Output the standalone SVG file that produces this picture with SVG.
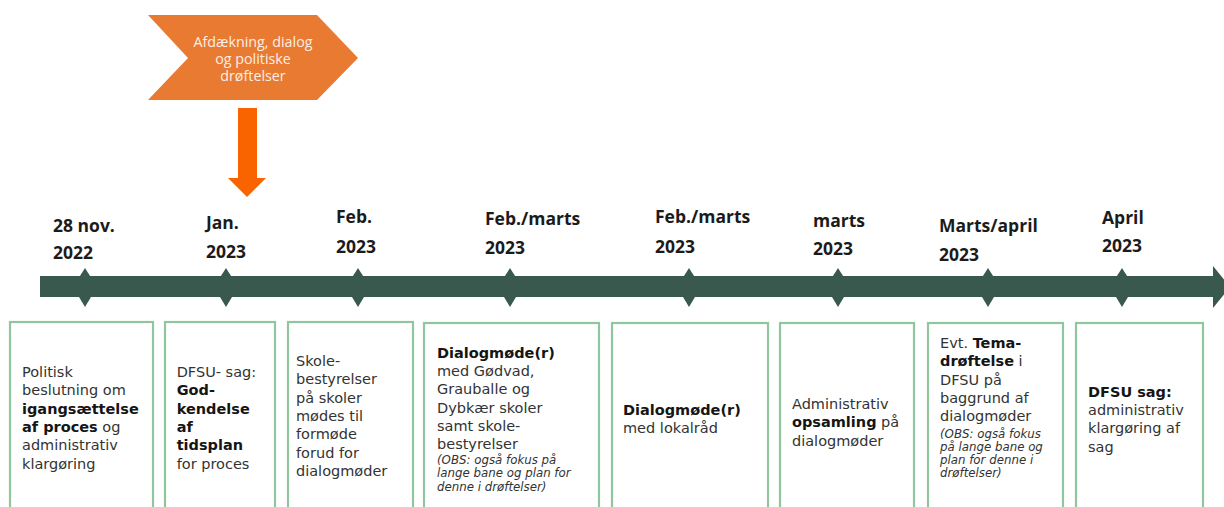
<svg xmlns="http://www.w3.org/2000/svg" width="1224" height="507" viewBox="0 0 1224 507">
<style>
.date{font-family:"Open Sans","Liberation Sans",sans-serif;font-weight:bold;font-size:17.5px;fill:#1b1b1b}
.box{fill:#ffffff;stroke:#8fc6a0;stroke-width:2.2}
.t{font-family:"DejaVu Sans","Verdana",sans-serif;font-size:14.5px;fill:#333333}
.b{font-weight:bold;fill:#151515}
.i{font-style:italic;font-size:11.8px;fill:#333333}
.dia{fill:#3a594e}
.chev{fill:#e87a32}
.ct{font-family:"Open Sans","Liberation Sans",sans-serif;font-size:14.3px;fill:#fdeee4;text-anchor:middle}
</style>
<rect width="1224" height="507" fill="#ffffff"/>

<g id="phase">
<polygon class="chev" points="148,15 317,15 358,58 317,100 148,100 188,58"/>
<text class="ct"><tspan x="253" y="47">Afdækning, dialog</tspan><tspan x="253" y="64">og politiske</tspan><tspan x="253" y="81">drøftelser</tspan></text>
</g>

<g id="connectors">
<polygon fill="#fa6400" points="238,108 257,108 257,178 266,178 247,197 228,178 238,178"/>
<g id="timeline">
<polygon class="dia" points="40,276 1213,276 1213,266 1230,287 1213,308 1213,297 40,297"/>
<g id="ticks">
<polygon class="dia" points="85,268 97,287 85,307 73,287"/>
<polygon class="dia" points="226,268 238,287 226,307 214,287"/>
<polygon class="dia" points="358,268 370,287 358,307 346,287"/>
<polygon class="dia" points="510,268 522,287 510,307 498,287"/>
<polygon class="dia" points="689,268 701,287 689,307 677,287"/>
<polygon class="dia" points="838,268 850,287 838,307 826,287"/>
<polygon class="dia" points="988,268 1000,287 988,307 976,287"/>
<polygon class="dia" points="1122,268 1134,287 1122,307 1110,287"/>
</g>
</g>
</g>

<g id="dates">
<text class="date"><tspan x="53" y="232">28 nov.</tspan><tspan x="53" y="259">2022</tspan></text>
<text class="date"><tspan x="206" y="229">Jan.</tspan><tspan x="206" y="258">2023</tspan></text>
<text class="date"><tspan x="336" y="223">Feb.</tspan><tspan x="336" y="253">2023</tspan></text>
<text class="date"><tspan x="485" y="225">Feb./marts</tspan><tspan x="485" y="254">2023</tspan></text>
<text class="date"><tspan x="655" y="223">Feb./marts</tspan><tspan x="655" y="253">2023</tspan></text>
<text class="date"><tspan x="813" y="227">marts</tspan><tspan x="813" y="255">2023</tspan></text>
<text class="date"><tspan x="939" y="232">Marts/april</tspan><tspan x="939" y="261">2023</tspan></text>
<text class="date"><tspan x="1102" y="224">April</tspan><tspan x="1102" y="252">2023</tspan></text>
</g>

<g id="box1">
<rect class="box" x="10" y="322" width="143" height="200"/>
<text class="t"><tspan x="22" y="377">Politisk</tspan><tspan x="22" y="395.3">beslutning om</tspan><tspan x="22" y="413.6" class="b">igangsættelse</tspan><tspan x="22" y="432"><tspan class="b">af proces</tspan> og</tspan><tspan x="22" y="450.3">administrativ</tspan><tspan x="22" y="468.6">klargøring</tspan></text>
</g>

<g id="box2">
<rect class="box" x="165" y="322" width="110" height="200"/>
<text class="t"><tspan x="176.7" y="377">DFSU- sag:</tspan><tspan x="176.7" y="395.3" class="b">God-</tspan><tspan x="176.7" y="413.6" class="b">kendelse</tspan><tspan x="176.7" y="432" class="b">af</tspan><tspan x="176.7" y="450.3" class="b">tidsplan</tspan><tspan x="176.7" y="468.6">for proces</tspan></text>
</g>

<g id="box3">
<rect class="box" x="288" y="322" width="125" height="200"/>
<text class="t"><tspan x="296" y="366">Skole-</tspan><tspan x="296" y="384.3">bestyrelser</tspan><tspan x="296" y="402.6">på skoler</tspan><tspan x="296" y="420.9">mødes til</tspan><tspan x="296" y="439.2">formøde</tspan><tspan x="296" y="457.5">forud for</tspan><tspan x="296" y="475.8">dialogmøder</tspan></text>
</g>

<g id="box4">
<rect class="box" x="424" y="323" width="175" height="200"/>
<text class="t"><tspan x="437" y="357.7" class="b">Dialogmøde(r)</tspan><tspan x="437" y="376">med Gødvad,</tspan><tspan x="437" y="394.3">Grauballe og</tspan><tspan x="437" y="412.6">Dybkær skoler</tspan><tspan x="437" y="430.9">samt skole-</tspan><tspan x="437" y="449.2">bestyrelser</tspan></text>
<text class="t i"><tspan x="437" y="463.5">(OBS: også fokus på</tspan><tspan x="437" y="477.2">lange bane og plan for</tspan><tspan x="437" y="490.9">denne i drøftelser)</tspan></text>
</g>

<g id="box5">
<rect class="box" x="612" y="323" width="156" height="200"/>
<text class="t"><tspan x="623" y="415" class="b">Dialogmøde(r)</tspan><tspan x="623" y="433.3">med lokalråd</tspan></text>
</g>

<g id="box6">
<rect class="box" x="780" y="323" width="134" height="200"/>
<text class="t"><tspan x="792" y="409">Administrativ</tspan><tspan x="792" y="427.3"><tspan class="b">opsamling</tspan> på</tspan><tspan x="792" y="445.6">dialogmøder</tspan></text>
</g>

<g id="box7">
<rect class="box" x="928" y="323" width="135" height="200"/>
<text class="t"><tspan x="940" y="348">Evt. <tspan class="b">Tema-</tspan></tspan><tspan x="940" y="366.3"><tspan class="b">drøftelse</tspan> i</tspan><tspan x="940" y="384.6">DFSU på</tspan><tspan x="940" y="402.9">baggrund af</tspan><tspan x="940" y="421.2">dialogmøder</tspan></text>
<text class="t i"><tspan x="940" y="437.5">(OBS: også fokus</tspan><tspan x="940" y="450.8">på lange bane og</tspan><tspan x="940" y="464.1">plan for denne i</tspan><tspan x="940" y="477.4">drøftelser)</tspan></text>
</g>

<g id="box8">
<rect class="box" x="1076" y="323" width="127" height="200"/>
<text class="t"><tspan x="1088" y="396.7" class="b">DFSU sag:</tspan><tspan x="1088" y="415">administrativ</tspan><tspan x="1088" y="433.3">klargøring af</tspan><tspan x="1088" y="451.6">sag</tspan></text>
</g>
</svg>
